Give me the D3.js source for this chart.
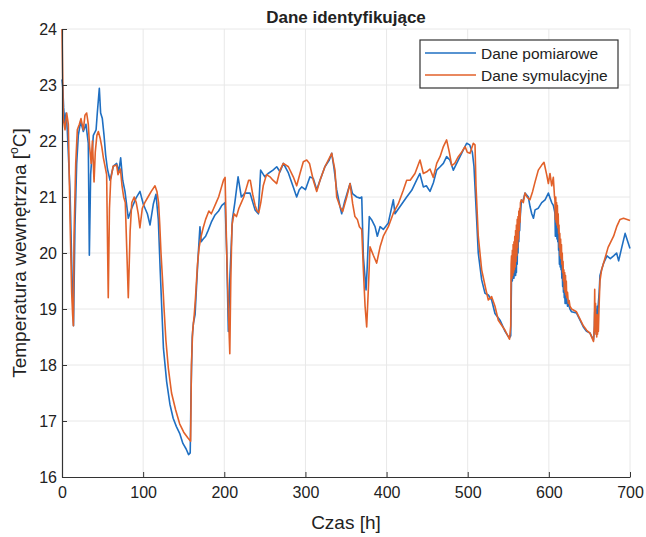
<!DOCTYPE html>
<html>
<head>
<meta charset="utf-8">
<script src="https://cdn.jsdelivr.net/npm/d3@7"></script>
<style>
  body { margin: 0; background: #fff; }
  text { font-family: "Liberation Sans", Arial, sans-serif; fill: #222; }
</style>
</head>
<body>
<div id="chart"></div>
<script>
// czas [h] i temperatura [°C] - dane pomiarowe
var czasPomiar = [0,1,2,3.5,5,6.5,9.9,12,13.1,14.2,16,18.1,20.1,23,26.3,29.5,32.4,33.7,35.3,38.6,42,43.5,46,47.6,49.7,51.8,53.8,56,59.2,63.3,67.4,70,72.3,74.8,77.6,81.7,85.9,91.2,96.1,100.2,105.2,108.5,112.5,115.8,118.7,
  121,123,125,129,133,137,141,145,149,153,156,158,159,160.5,162,164,166.5,168,170,171.5,174,177,180,184,188.6,193,197,201,203,205,207,210,213,217,221,225.5,231.7,237.9,242,244.8,250,254,260,264.6,268.7,272.8,279,285,289.2,292.4,295.4,300,305.6,309.7,313.9,318,324,329.4,332.4,335,338.5,342.6,344.7,348,355,358,363.2,367.3,369.4,371.4,374.7,376,378.7,381.7,385.8,388.6,392,396,402,408.3,410.4,416.6,424.8,431,437,441,445.3,449,453.5,457.6,461.8,466,470,474,478,482.3,486.4,490.5,494.6,498.7,502.5,505.7,507.7,511,513,517.2,521.3,525.4,529.5,533.6,539.8,546,551.3,553,
  554,554.5,555,555.5,556,556.5,557,557.5,558,558.5,559,559.5,560,560.5,561,561.5,562,562.5,563,563.5,564,564.5,565,566,568.5,570.6,574.7,576.8,578.9,581,583,587,591.2,595.3,599.4,601.5,603.5,605.5,607,
  607.5,608,608.5,609,609.5,610,610.5,611,611.5,612,612.5,613,613.5,614,614.5,615,615.5,616,616.5,617,617.5,618,618.5,619,619.5,620,620.5,621,622,623,624,626,628,634,642.5,646.6,650.7,655,
  656,656.5,657,657.5,658,658.5,659,659.5,660,661,662,663,665,667.5,671.6,675.7,679.8,683.5,686,690,694,698,700];
var tempPomiar = [23.1,22.95,22.6,22.3,22.5,22.2,21.1,19.8,19.2,18.7,20.5,21.6,22.1,22.35,22.17,22.3,21.96,19.96,21.4,22.1,22.2,22.5,22.94,22.5,22.4,22.1,21.75,21.5,21.3,21.55,21.6,21.45,21.7,21.3,21.1,20.62,20.8,20.98,21.1,20.87,20.7,20.5,20.87,21.05,20.6,
  19.7,19.0,18.3,17.7,17.3,17.05,16.9,16.78,16.6,16.5,16.4,16.43,17.5,18.5,18.75,18.9,19.6,20.0,20.47,20.2,20.25,20.3,20.4,20.55,20.68,20.75,20.85,20.9,20.0,18.6,19.6,20.6,20.9,21.36,21.0,21.07,21.07,20.77,20.7,21.48,21.36,21.42,21.48,21.54,21.45,21.6,21.43,21.18,21.0,21.13,21.18,21.13,21.36,21.33,21.13,21.3,21.54,21.66,21.78,21.54,21.13,20.83,20.7,20.9,21.24,21.06,21.0,20.98,21.0,19.93,19.34,19.7,20.65,20.59,20.47,20.3,20.47,20.42,20.53,20.95,20.7,20.83,21.0,21.12,21.3,21.42,21.18,21.2,21.1,21.25,21.48,21.54,21.6,21.72,21.66,21.48,21.6,21.72,21.84,21.96,21.93,21.8,21.55,20.6,20.0,19.52,19.28,19.25,19.16,18.92,18.8,18.6,18.48,18.52,
  19.55,19.9,19.5,19.95,19.55,20.0,19.55,20.05,19.6,20.1,19.6,20.15,19.65,20.2,19.8,20.3,20.0,20.4,20.2,20.5,20.4,20.6,20.7,20.9,20.95,21.07,21.0,20.83,20.7,20.62,20.77,20.8,20.9,20.95,21.07,20.98,20.9,20.85,20.75,
  20.7,20.3,20.6,20.3,20.55,20.25,20.5,20.2,20.4,20.05,20.2,19.8,20.05,19.75,19.95,19.7,19.85,19.55,19.7,19.4,19.55,19.3,19.45,19.2,19.35,19.1,19.3,19.1,19.2,19.05,19.1,19.0,18.95,18.93,18.68,18.6,18.57,18.45,
  18.6,18.95,18.7,19.0,18.75,19.0,18.8,19.05,18.85,19.1,19.3,19.6,19.7,19.82,19.95,19.9,19.95,20.0,19.86,20.11,20.35,20.17,20.08];

// czas [h] i temperatura [°C] - dane symulacyjne
var czasSymulacja = [0,0.8,1.5,3.7,5.8,7.8,9.9,11.9,13.1,14,14.8,16.9,18.9,21.4,23.4,26.3,28.3,30.4,32.4,34,36,37.5,39.5,41,43,44.8,47,49,51,53,55,57,58.5,60,63,67.4,69,72,74,76,78,81.7,84,86,89,91.5,94,96,99,102,106,110,114.6,117,119,120.5,
  122,124,126,128,131,135,140,145,150,155,158.5,159.5,161,163,164.5,167,169,171.5,174,177,181,184,187,190,193,196,199,201,203,205,206.8,208,209.5,212,215,218,221,224,227,230,232,235,238,240.5,242.5,245,248,252,256.3,260,264.6,268.7,272.8,279,285,289.2,293.3,297.4,301.6,305,309.7,313.9,318,324,332.4,336.4,338.5,342.6,345.9,350.9,355,358.2,361,364,366.5,369.4,371.4,373.5,375.5,377.5,379.6,383.7,387.8,392,396,402.2,408.3,414.5,420.6,424.8,429.1,435,441.2,445.3,449.5,453.5,457.6,461.8,465.9,470,474,477.3,480.3,484,488.4,492.5,496.7,499.5,502.8,506.9,509,510.2,513,517.2,522.5,525.4,529.5,533.6,537.7,546,551.5,553,553.5,
  554,554.5,555,555.5,556,556.5,557,557.5,558,558.5,559,559.5,560,560.5,561,561.5,562,562.5,563,563.5,564,564.5,565,566,568.5,570.6,573,576.7,580,583,587,591.2,594,597.3,599.4,601.4,603.5,605.5,607,
  607.5,608,608.5,609,609.5,610,610.5,611,611.5,612,612.5,613,613.5,614,614.5,615,615.5,616,616.5,617,617.5,618,618.5,619,619.5,620,620.5,621,621.5,622,623,624,625,626,628,634,642.5,646.6,650.7,655,
  656,656.5,657,657.5,658,658.5,659,659.5,660,660.5,661,662,663,665,667.5,673,679.8,683.6,687.7,692,700];
var tempSymulacja = [24.0,23.2,22.4,22.2,22.5,22.3,20.6,19.3,18.9,18.7,20.3,21.6,22.2,22.3,22.4,22.2,22.46,22.5,22.3,21.9,21.6,22.0,21.27,21.8,22.1,22.17,22.05,21.9,21.7,21.55,21.4,19.2,20.8,21.3,21.55,21.57,21.4,21.5,21.2,21.0,20.9,19.2,20.4,20.9,21.0,20.9,20.7,20.45,20.8,20.9,21.0,21.1,21.2,21.1,20.9,20.5,
  20.0,19.5,18.95,18.45,17.95,17.5,17.2,16.95,16.8,16.7,16.64,18.0,18.6,18.9,19.2,19.8,20.1,20.3,20.45,20.6,20.75,20.7,20.8,20.9,21.0,21.15,21.3,21.35,20.0,19.0,18.2,19.5,20.5,20.7,20.65,20.8,20.9,21.0,21.15,21.3,21.3,21.05,20.85,20.75,20.72,20.9,21.2,21.4,21.36,21.3,21.24,21.48,21.6,21.54,21.36,21.2,21.42,21.63,21.66,21.6,21.3,21.1,21.3,21.54,21.78,21.48,21.0,20.83,20.74,21.0,21.24,20.88,20.65,20.6,20.47,20.42,19.7,19.05,18.68,19.34,20.11,19.96,19.82,20.11,20.3,20.47,20.71,20.88,21.12,21.3,21.3,21.42,21.66,21.42,21.45,21.5,21.35,21.6,21.72,21.9,22.02,21.8,21.56,21.6,21.72,21.8,21.9,21.8,21.78,21.96,21.93,21.2,20.3,19.7,19.34,19.16,19.22,19.05,18.8,18.62,18.46,18.7,19.8,
  19.95,19.55,20.05,19.6,20.15,19.65,20.2,19.7,20.3,19.75,20.4,19.85,20.5,19.95,20.6,20.1,20.65,20.25,20.75,20.4,20.8,20.55,20.9,20.95,20.9,21.07,21.0,20.95,21.1,21.27,21.48,21.57,21.62,21.4,21.24,21.42,21.2,21.35,21.0,
  20.95,20.6,21.0,20.55,20.9,20.5,20.85,20.45,20.7,20.35,20.5,20.1,20.35,19.95,20.25,19.9,20.15,19.8,20.0,19.65,19.85,19.5,19.7,19.35,19.65,19.3,19.6,19.25,19.5,19.2,19.3,19.1,19.15,19.05,19.0,18.95,18.7,18.62,18.57,18.42,
  18.7,19.35,18.6,19.1,18.55,18.9,18.5,18.85,18.55,18.9,18.6,19.1,19.5,19.7,19.82,20.1,20.3,20.47,20.6,20.62,20.58];

var xTicks = [0, 100, 200, 300, 400, 500, 600, 700];
var yTicks = [16, 17, 18, 19, 20, 21, 22, 23, 24];
var serie = ["Dane pomiarowe", "Dane symulacyjne"];
var kolory = ["#1f6fc2", "#e2612a"];

function drawChart() {
  var w = 646, h = 537;
  var margin = {left: 62, right: 16, top: 29, bottom: 60};
  var iw = w - margin.left - margin.right;
  var ih = h - margin.top - margin.bottom;

  var svg = d3.select("#chart").append("svg")
      .attr("width", w)
      .attr("height", h);

  var x = d3.scaleLinear().domain([0, 700]).range([0, iw]);
  var y = d3.scaleLinear().domain([16, 24]).range([ih, 0]);

  var g = svg.append("g")
      .attr("transform", "translate(" + margin.left + "," + margin.top + ")");

  // siatka
  g.selectAll("line.gx").data(xTicks.slice(1)).enter().append("line")
      .attr("x1", function(d) { return x(d); })
      .attr("x2", function(d) { return x(d); })
      .attr("y1", 0).attr("y2", ih)
      .attr("stroke", "#e8e8e8").attr("stroke-width", 1);
  g.selectAll("line.gy").data(yTicks.slice(1)).enter().append("line")
      .attr("y1", function(d) { return y(d); })
      .attr("y2", function(d) { return y(d); })
      .attr("x1", 0).attr("x2", iw)
      .attr("stroke", "#e8e8e8").attr("stroke-width", 1);

  var line = d3.line()
      .x(function(d) { return x(d[0]); })
      .y(function(d) { return y(d[1]); });

  var dane = [d3.zip(czasPomiar, tempPomiar), d3.zip(czasSymulacja, tempSymulacja)];

  g.selectAll("path.seria").data(dane).enter().append("path")
      .attr("class", "seria")
      .attr("d", line)
      .attr("fill", "none")
      .attr("stroke", function(d, i) { return kolory[i]; })
      .attr("stroke-width", 1.6)
      .attr("stroke-linejoin", "round");

  // osie
  var xAxis = g.append("g")
      .attr("transform", "translate(0," + ih + ")")
      .call(d3.axisBottom(x).tickValues(xTicks).tickSizeInner(-5).tickSizeOuter(0).tickPadding(10));
  var yAxis = g.append("g")
      .call(d3.axisLeft(y).tickValues(yTicks).tickSizeInner(-5).tickSizeOuter(0).tickPadding(5));

  [xAxis, yAxis].forEach(function(a) {
    a.select(".domain").attr("stroke", "#333").attr("stroke-width", 1.2);
    a.selectAll(".tick line").attr("stroke", "#333");
    a.selectAll(".tick text")
      .attr("font-family", "Liberation Sans, Arial, sans-serif")
      .attr("font-size", "16px")
      .attr("fill", "#222");
  });

  // tytul
  svg.append("text")
      .attr("x", margin.left + iw / 2)
      .attr("y", 23)
      .attr("text-anchor", "middle")
      .attr("font-size", "17px")
      .attr("font-weight", "bold")
      .text("Dane identyfikujące");

  svg.append("text")
      .attr("x", margin.left + iw / 2)
      .attr("y", 529)
      .attr("text-anchor", "middle")
      .attr("font-size", "19px")
      .text("Czas [h]");

  var yl = svg.append("text")
      .attr("transform", "translate(26," + (margin.top + ih / 2) + ") rotate(-90)")
      .attr("text-anchor", "middle")
      .attr("font-size", "19px");
  yl.append("tspan").text("Temperatura wewnętrzna [");
  yl.append("tspan").attr("font-size", "12px").attr("dy", "-8").text("o");
  yl.append("tspan").attr("dy", "8").text("C]");

  // legenda
  var leg = svg.append("g").attr("transform", "translate(420,40)");
  leg.append("rect")
      .attr("width", 198).attr("height", 48)
      .attr("fill", "#fff").attr("stroke", "#333").attr("stroke-width", 1.2);
  var items = leg.selectAll("g.item").data(serie).enter().append("g")
      .attr("transform", function(d, i) { return "translate(0," + (13 + i * 22) + ")"; });
  items.append("line")
      .attr("x1", 5).attr("x2", 56)
      .attr("stroke", function(d, i) { return kolory[i]; })
      .attr("stroke-width", 1.6);
  items.append("text")
      .attr("x", 61).attr("y", 5.5)
      .attr("font-size", "15.5px")
      .text(function(d) { return d; });
}

drawChart();
</script>
</body>
</html>
